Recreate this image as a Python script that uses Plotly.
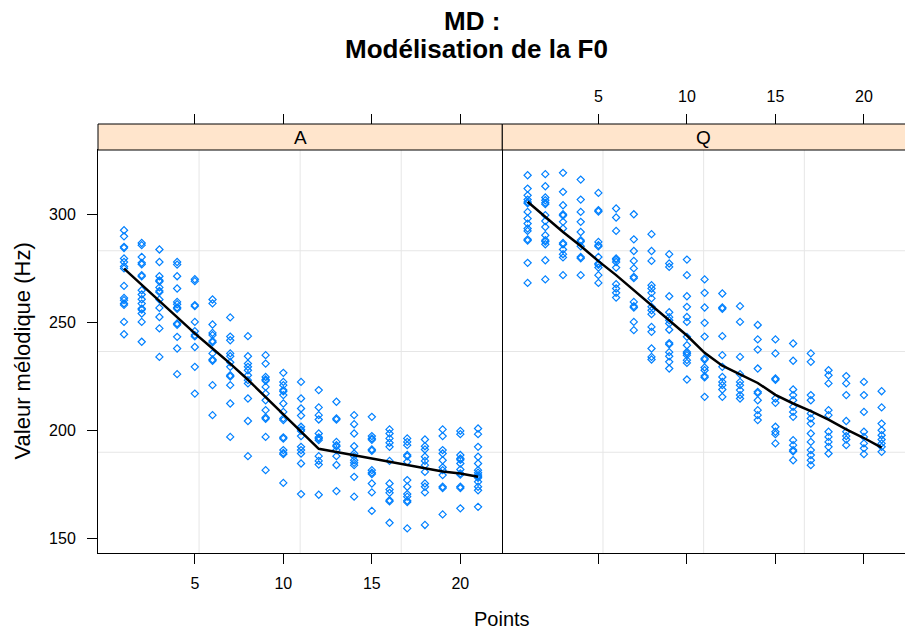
import plotly.graph_objects as go

# Position of the measurement point along the utterance
points = list(range(1, 22))

# F0 values (Hz) per point, condition A
f0_A = [
    [292.8, 290.0, 285.1, 284.6, 279.7, 278.1, 276.0, 275.1, 267.0, 261.4, 260.4, 258.9, 258.2, 250.3, 244.6],
    [286.9, 285.9, 280.4, 277.7, 277.0, 272.0, 271.4, 265.0, 263.0, 260.8, 258.8, 256.5, 256.0, 254.2, 250.3, 241.1],
    [283.9, 278.1, 271.5, 269.6, 269.0, 266.3, 264.7, 264.1, 260.7, 256.8, 252.6, 247.3, 234.1],
    [278.1, 276.9, 271.5, 265.8, 259.6, 258.5, 257.0, 256.4, 249.6, 249.0, 243.4, 238.0, 226.1],
    [270.1, 269.2, 258.1, 257.6, 250.3, 246.0, 244.2, 243.6, 238.7, 229.5, 217.1],
    [260.7, 258.9, 249.1, 245.2, 244.2, 241.5, 240.9, 235.7, 232.9, 232.3, 221.0, 207.1],
    [252.4, 243.5, 241.8, 235.7, 234.4, 231.6, 229.5, 225.6, 225.0, 221.0, 212.5, 197.0],
    [243.7, 234.4, 231.0, 229.5, 227.9, 225.6, 223.3, 221.8, 214.8, 204.4, 188.1],
    [234.9, 231.0, 224.8, 223.6, 223.0, 220.2, 217.1, 214.0, 209.4, 206.0, 205.4, 197.0, 181.6],
    [226.7, 222.5, 221.0, 218.7, 218.1, 216.4, 212.5, 208.6, 205.6, 204.8, 196.8, 196.2, 190.9, 189.6, 189.0, 175.7],
    [222.5, 214.8, 210.2, 206.9, 201.7, 200.4, 199.8, 197.4, 192.4, 190.9, 189.3, 184.7, 170.5],
    [218.7, 210.7, 207.1, 205.1, 198.6, 196.8, 196.2, 195.5, 188.1, 185.9, 184.2, 170.2],
    [213.3, 205.6, 205.0, 194.7, 193.2, 192.6, 190.9, 188.1, 184.0, 171.9],
    [207.1, 202.9, 198.6, 192.7, 189.3, 188.1, 186.2, 185.0, 183.9, 178.5, 169.3],
    [206.3, 197.4, 196.3, 195.7, 191.2, 190.6, 181.6, 180.4, 179.8, 175.4, 171.3, 162.7],
    [200.5, 198.6, 196.3, 194.3, 192.4, 185.9, 175.4, 172.6, 171.1, 167.7, 167.1, 157.2],
    [196.3, 194.7, 193.2, 188.6, 188.0, 185.5, 177.0, 173.9, 170.5, 169.3, 167.4, 166.8, 154.6],
    [195.8, 192.7, 191.2, 187.8, 185.9, 183.9, 180.8, 175.4, 173.9, 171.3, 156.2],
    [200.5, 197.4, 190.9, 189.3, 186.2, 182.9, 181.6, 179.3, 173.9, 173.3, 161.1],
    [199.8, 198.3, 188.6, 187.0, 186.4, 184.7, 181.9, 180.1, 179.5, 173.9, 173.3, 163.9],
    [200.9, 198.3, 192.4, 187.8, 184.7, 181.6, 180.4, 179.3, 178.7, 178.1, 176.2, 173.9, 172.3, 164.6],
]

# F0 values (Hz) per point, condition Q
f0_Q = [
    [318.3, 312.1, 309.0, 307.0, 305.9, 305.3, 301.3, 298.2, 295.9, 293.6, 292.5, 288.6, 288.0, 277.7, 268.4],
    [318.8, 313.2, 308.0, 306.7, 305.5, 304.9, 299.8, 297.1, 294.3, 290.5, 288.2, 287.6, 286.3, 278.9, 270.0],
    [319.4, 310.6, 304.4, 300.2, 299.6, 296.7, 293.6, 286.9, 286.3, 283.9, 281.7, 280.2, 272.0],
    [316.3, 307.0, 301.3, 296.7, 292.0, 288.2, 287.6, 285.4, 280.4, 279.8, 272.0],
    [310.1, 302.1, 301.5, 287.4, 285.9, 285.3, 280.4, 277.4, 276.8, 275.5, 272.0, 268.4],
    [302.9, 298.7, 292.5, 279.7, 279.1, 278.1, 275.5, 267.8, 265.8, 263.8, 261.6],
    [300.2, 288.6, 283.2, 278.6, 275.1, 271.2, 270.6, 259.6, 257.6, 257.0, 250.3, 246.5],
    [291.0, 283.2, 278.6, 267.3, 265.8, 263.8, 261.2, 257.3, 255.7, 253.9, 248.0, 245.7, 238.0, 234.1, 232.9],
    [281.7, 277.4, 275.8, 262.2, 254.8, 252.5, 251.1, 249.6, 246.7, 240.5, 239.9, 236.3, 234.4, 231.8, 228.7],
    [279.2, 272.0, 262.2, 257.3, 252.6, 250.3, 243.4, 239.5, 236.4, 235.8, 234.9, 232.6, 231.3, 223.6],
    [270.0, 263.8, 257.0, 249.9, 243.5, 233.4, 232.8, 229.2, 227.9, 225.2, 224.6, 215.6],
    [263.5, 257.0, 256.4, 243.7, 234.9, 229.5, 224.8, 222.5, 221.0, 219.0, 215.6],
    [257.6, 250.3, 234.1, 226.1, 222.5, 221.0, 218.7, 216.4, 214.8],
    [248.9, 242.2, 237.5, 228.7, 217.9, 217.3, 214.0, 209.4, 207.1, 204.8],
    [242.2, 235.7, 224.1, 223.5, 214.8, 212.8, 201.7, 199.4, 198.3, 194.0],
    [240.3, 232.3, 219.0, 216.4, 214.0, 210.9, 208.6, 206.3, 195.5, 193.2, 190.9, 190.3, 186.2],
    [235.7, 231.8, 216.4, 214.0, 207.9, 205.6, 203.2, 198.6, 194.7, 190.9, 188.6, 186.2, 183.9],
    [227.9, 225.6, 221.8, 209.4, 207.1, 199.4, 197.0, 194.7, 192.4, 189.3],
    [225.2, 221.8, 216.4, 204.4, 199.4, 197.4, 195.8, 193.2],
    [222.5, 216.4, 208.6, 199.4, 197.0, 194.0, 191.7, 189.0],
    [218.2, 210.7, 203.2, 200.1, 197.8, 195.8, 194.0, 192.4, 190.1],
]

# Modelled F0 contour per point
modele_A = [275.0, 267.5, 260.0, 252.5, 245.0, 238.0, 231.0, 223.5, 215.5, 207.5, 199.5,
            191.5, 190.0, 188.5, 187.0, 185.5, 184.0, 182.5, 181.0, 180.0, 178.5]
modele_Q = [306.0, 299.0, 292.0, 285.5, 278.5, 272.0, 265.0, 258.0, 251.0, 244.0, 236.0,
            230.0, 226.0, 222.0, 216.5, 212.5, 209.0, 205.0, 200.5, 196.5, 192.0]

panels = ["A", "Q"]
x_ticks = [5, 10, 15, 20]
y_ticks = [150, 200, 250, 300]

X_RANGE_A = [-0.47, 22.37]
X_RANGE_Q = [-0.43, 22.32]
Y_RANGE = [143.2, 330.0]

W, H = 905, 635
M_L, M_R, M_T, M_B = 98, 0, 124, 82
PW, PH = W - M_L - M_R, H - M_T - M_B
Y_TOP = 403 / PH            # panel top (strip sits above it)
SPLIT = 404.3 / PW          # boundary between the two panels

FONT = "Arial, Liberation Sans, sans-serif"
BLUE = "#0080ff"
GRID = "#e6e6e6"


def flatten(cols):
    xs, ys = [], []
    for x, vals in zip(points, cols):
        xs += [x] * len(vals)
        ys += vals
    return xs, ys


fig = go.Figure()
for cols, model, xa, ya in [(f0_A, modele_A, "x", "y"), (f0_Q, modele_Q, "x2", "y2")]:
    xs, ys = flatten(cols)
    fig.add_trace(go.Scatter(
        x=xs, y=ys, mode="markers", xaxis=xa, yaxis=ya,
        marker=dict(symbol="diamond-open", size=5.5, color=BLUE, line=dict(width=1.2, color=BLUE)),
        showlegend=False, hoverinfo="skip"))
    fig.add_trace(go.Scatter(
        x=points, y=model, mode="lines", xaxis=xa, yaxis=ya,
        line=dict(color="black", width=2.5), showlegend=False))

# empty traces so the top tick axes get drawn
fig.add_trace(go.Scatter(x=[], y=[], xaxis="x3", yaxis="y", showlegend=False))
fig.add_trace(go.Scatter(x=[], y=[], xaxis="x4", yaxis="y2", showlegend=False))

tickfont = dict(family=FONT, size=16, color="black")
common_x = dict(tickvals=x_ticks, ticks="outside", ticklen=10, tickwidth=1, tickcolor="black",
                showgrid=False, zeroline=False, tickfont=tickfont, ticklabelstandoff=6)

fig.update_layout(
    width=W, height=H,
    margin=dict(l=M_L, r=M_R, t=M_T, b=M_B, pad=0),
    paper_bgcolor="white", plot_bgcolor="white",
    font=dict(family=FONT, color="black"),
    xaxis=dict(domain=[0, SPLIT], range=X_RANGE_A, anchor="y", showline=True, linecolor="black",
               linewidth=1, mirror=True, **common_x),
    xaxis2=dict(domain=[SPLIT, 1], range=X_RANGE_Q, anchor="y2", showline=True, linecolor="black",
                linewidth=1, mirror=True, showticklabels=False, **common_x),
    xaxis3=dict(overlaying="x", range=X_RANGE_A, anchor="free", position=1, side="top",
                showline=False, showticklabels=False, **common_x),
    xaxis4=dict(overlaying="x2", range=X_RANGE_Q, anchor="free", position=1, side="top",
                showline=False, **common_x),
    yaxis=dict(domain=[0, Y_TOP], range=Y_RANGE, anchor="x", tickvals=y_ticks, ticks="outside",
               ticklen=10, tickcolor="black", showline=True, linecolor="black", linewidth=1,
               mirror=True, showgrid=False, zeroline=False, tickfont=tickfont, ticklabelstandoff=8),
    yaxis2=dict(domain=[0, Y_TOP], range=Y_RANGE, anchor="x2", showticklabels=False, ticks="",
                showline=False, showgrid=False, zeroline=False),
)

shapes = []
# reference grid, dividing each panel into quarters
for xd, yd in [("x domain", "y domain"), ("x2 domain", "y2 domain")]:
    for f in (0.25, 0.5, 0.75):
        shapes.append(dict(type="line", xref=xd, yref=yd, x0=f, x1=f, y0=0, y1=1,
                           line=dict(color=GRID, width=1), layer="below"))
        shapes.append(dict(type="line", xref=xd, yref=yd, x0=0, x1=1, y0=f, y1=f,
                           line=dict(color=GRID, width=1), layer="below"))
# strips
for x0, x1 in [(0, SPLIT), (SPLIT, 1.003)]:
    shapes.append(dict(type="rect", xref="paper", yref="paper", x0=x0, x1=x1, y0=Y_TOP, y1=1,
                       fillcolor="#ffe5cc", line=dict(color="black", width=1), layer="above"))
fig.update_layout(shapes=shapes)

annotations = []
for name, xc in zip(panels, [SPLIT / 2, (SPLIT + 1) / 2]):
    annotations.append(dict(text=name, xref="paper", yref="paper", x=xc, y=(Y_TOP + 1) / 2,
                            xanchor="center", yanchor="middle", showarrow=False,
                            font=dict(family=FONT, size=19, color="black")))


def py(pixel_y):
    return (H - M_B - pixel_y) / PH


def px(pixel_x):
    return (pixel_x - M_L) / PW


annotations += [
    dict(text="<b>MD :</b>", xref="paper", yref="paper", x=px(472), y=py(21),
         xanchor="center", yanchor="middle", showarrow=False,
         font=dict(family=FONT, size=26, color="black")),
    dict(text="<b>Modélisation de la F0</b>", xref="paper", yref="paper", x=px(476), y=py(49),
         xanchor="center", yanchor="middle", showarrow=False,
         font=dict(family=FONT, size=26, color="black")),
    dict(text="Points", xref="paper", yref="paper", x=0.5, y=py(619),
         xanchor="center", yanchor="middle", showarrow=False,
         font=dict(family=FONT, size=20, color="black")),
    dict(text="Valeur mélodique (Hz)", xref="paper", yref="paper", x=px(22), y=Y_TOP / 2,
         xanchor="center", yanchor="middle", textangle=-90, showarrow=False,
         font=dict(family=FONT, size=22, color="black")),
]
fig.update_layout(annotations=annotations)

fig.write_html("out.html")
